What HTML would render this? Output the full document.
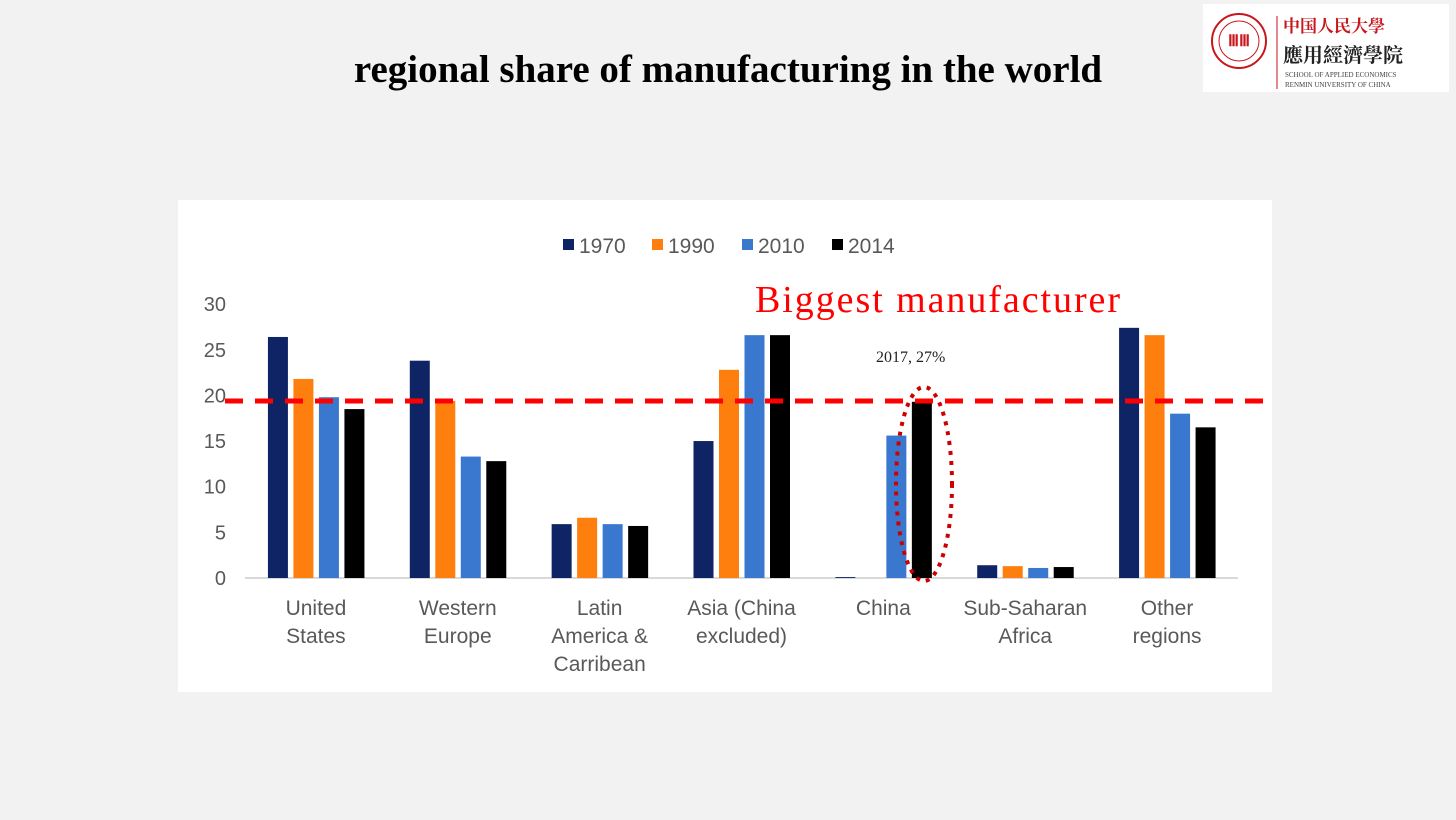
<!DOCTYPE html>
<html><head><meta charset="utf-8"><style>
html,body{margin:0;padding:0}
body{width:1456px;height:820px;background:#f2f2f2;position:relative;overflow:hidden;font-family:"Liberation Sans",sans-serif}
#title{position:absolute;left:0;width:1456px;top:47px;text-align:center;font-family:"Liberation Serif",serif;font-weight:bold;font-size:39px;color:#000}
#logo{position:absolute;left:1203px;top:4px;width:246px;height:88px;background:#fff}
</style></head><body>
<div id="title">regional share of manufacturing in the world</div>
<div id="logo">
<svg width="246" height="88">
<circle cx="36" cy="37" r="27" fill="none" stroke="#c8161d" stroke-width="2"/>
<circle cx="36" cy="37" r="20" fill="none" stroke="#c8161d" stroke-width="1"/>
<text x="36" y="42" font-size="16" fill="#c8161d" text-anchor="middle" font-weight="bold">ⅢⅢ</text>
<line x1="74" y1="12" x2="74" y2="85" stroke="#c8161d" stroke-width="1"/>
<text x="80" y="28" font-size="17" fill="#c8161d" font-family="'Noto Serif CJK SC',serif" font-weight="bold">中国人民大學</text>
<text x="80" y="58" font-size="20" fill="#222" font-family="'Noto Serif CJK TC',serif" font-weight="bold">應用經濟學院</text>
<text x="82" y="73" font-size="7" fill="#444" font-family="'Liberation Serif',serif">SCHOOL OF APPLIED ECONOMICS</text>
<text x="82" y="83" font-size="7" fill="#444" font-family="'Liberation Serif',serif">RENMIN UNIVERSITY OF CHINA</text>
</svg></div>
<svg id="chart" width="1456" height="820" style="position:absolute;left:0;top:0"></svg>
<script>
const categories=[["United","States"],["Western","Europe"],["Latin","America &","Carribean"],["Asia (China","excluded)"],["China"],["Sub-Saharan","Africa"],["Other","regions"]];
const series=["1970","1990","2010","2014"];
const colors=["#0f2464","#ff7f0e","#3a78d0","#000000"];
const v1970=[26.4,23.8,5.9,15.0,0.1,1.4,27.4];
const v1990=[21.8,19.4,6.6,22.8,0,1.3,26.6];
const v2010=[19.8,13.3,5.9,26.6,15.6,1.1,18.0];
const v2014=[18.5,12.8,5.7,26.6,19.3,1.2,16.5];
const yTicks=[0,5,10,15,20,25,30];
const values=[v1970,v1990,v2010,v2014];
const NS="http://www.w3.org/2000/svg";
const svg=document.getElementById('chart');
function mk(t,a,p){const e=document.createElementNS(NS,t);for(const k in a)e.setAttribute(k,a[k]);(p||svg).appendChild(e);return e;}
const y0=578,pxu=9.13,xL=245,xR=1238;
const yS=v=>y0-v*pxu;
const band=(xR-xL)/categories.length;
const xC=i=>xL+band*(i+0.5);
const panel=mk('rect',{x:178,y:200,width:1094,height:492,fill:'#fff'});


yTicks.forEach(t=>{const tx=mk('text',{x:226,y:yS(t)+7,'font-size':20,fill:'#595959','text-anchor':'end'});tx.textContent=t;

});
const ax=mk('line',{x1:xL,x2:xR,y1:y0,y2:y0,stroke:'#d9d9d9','stroke-width':2});


const bw=20,step=25.5;
values.forEach((arr,s)=>arr.forEach((v,i)=>{
 const x=xC(i)-48+s*step;
 const r=mk('rect',{x:x,y:yS(v),width:bw,height:v*pxu,fill:colors[s]});
 
 
}));
categories.forEach((c,i)=>c.forEach((ln,j)=>{
 const t=mk('text',{x:xC(i),y:615+j*28,'font-size':21,fill:'#595959','text-anchor':'middle'});t.textContent=ln;
 
 
}));
const lx=[563,652,742,832];
series.forEach((s,k)=>{
 const g=mk('g',{});
 
 
 mk('rect',{x:lx[k],y:239,width:11,height:11,fill:colors[k]},g);
 const t=mk('text',{x:lx[k]+16,y:253,'font-size':21,fill:'#595959'},g);t.textContent=s;
});
const dl=mk('line',{x1:225,x2:1272,y1:401,y2:401,stroke:'#f00','stroke-width':5,'stroke-dasharray':'18 12'});


const el=mk('ellipse',{cx:924,cy:484,rx:28,ry:97,fill:'none',stroke:'#c00','stroke-width':4,'stroke-dasharray':'4 6'});


const a1=mk('text',{x:755,y:312,'font-size':38,fill:'#f00','font-family':'Liberation Serif, serif',textLength:365});a1.textContent='Biggest manufacturer';


const a2=mk('text',{x:876,y:362,'font-size':16,fill:'#222','font-family':'Liberation Serif, serif'});a2.textContent='2017, 27%';


</script>
</body></html>
